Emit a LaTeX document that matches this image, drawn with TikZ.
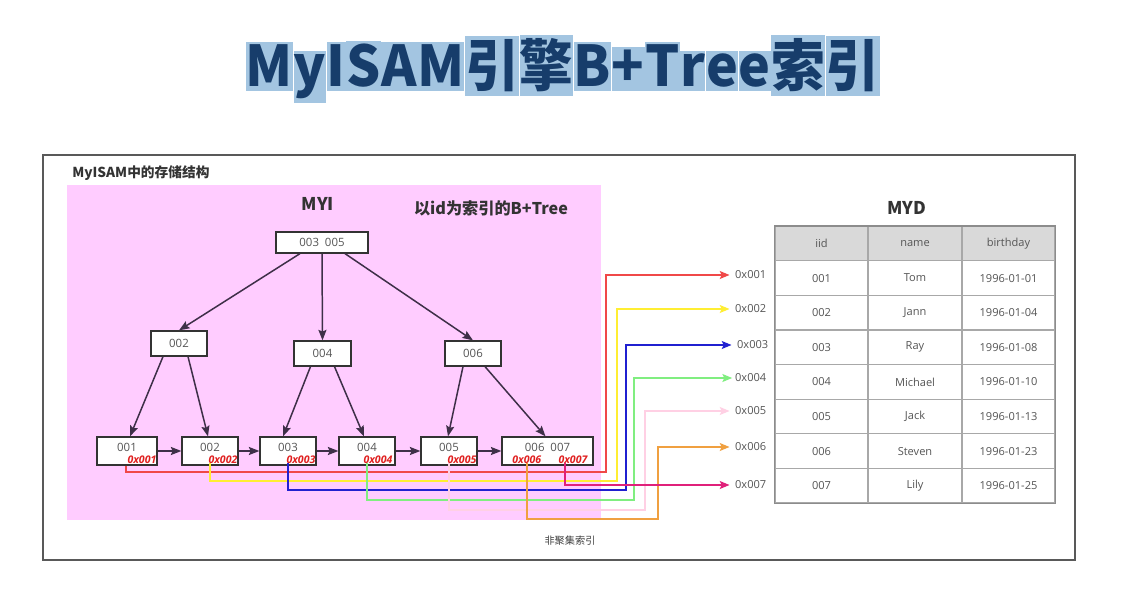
\documentclass[tikz,border=0pt]{standalone}
\usepackage{fontspec}
\setmainfont{Open Sans}
\newfontfamily\cjk{Noto Sans CJK SC}
\usetikzlibrary{arrows.meta,calc}
\definecolor{titleblue}{HTML}{173D6B}
\definecolor{titlehl}{HTML}{A3C5E1}
\definecolor{myipink}{HTML}{FFCCFF}
\definecolor{treeline}{HTML}{3E2F48}
\definecolor{ptrred}{HTML}{F04848}
\definecolor{ptryellow}{HTML}{FFEE33}
\definecolor{ptrblue}{HTML}{2020D0}
\definecolor{ptrgreen}{HTML}{80EE80}
\definecolor{ptrpink}{HTML}{FFD0E4}
\definecolor{ptrorange}{HTML}{F0A040}
\definecolor{ptrmagenta}{HTML}{E0207A}
\definecolor{labred}{HTML}{E02020}
\definecolor{hdrgray}{HTML}{D9D9D9}
\definecolor{cellline}{HTML}{A8A8A8}
\definecolor{txtgray}{HTML}{555555}
\begin{document}
\begin{tikzpicture}[x=0.02cm,y=-0.02cm,
  tchar/.style={anchor=base west,fill=titlehl,text=titleblue,inner xsep=0pt,inner ysep=2pt,
    font=\cjk\bfseries\fontsize{32}{32}\selectfont},
  keybox/.style={draw=black!80,fill=white,line width=0.7pt,inner sep=0pt,
    font=\fontsize{6.5}{7}\selectfont,text=txtgray},
  leafbox/.style={keybox,minimum height=28*0.02cm,text height=4.7pt,text depth=4.7pt},
  tarrow/.style={draw=treeline,line width=0.85pt,-{Stealth[length=6pt,width=4.6pt,inset=1pt]}},
  addrlab/.style={anchor=base east,inner sep=0.5pt,text=labred,font=\bfseries\itshape\fontsize{6}{7}\selectfont},
  ptr/.style={line width=0.8pt,-{Stealth[length=5.5pt,width=4.5pt,inset=1pt]},shorten >=2pt},
  outlab/.style={anchor=west,inner sep=1pt,text=txtgray,font=\fontsize{6.3}{7}\selectfont},
  cell/.style={draw=cellline,line width=0.6pt,minimum width=93*0.02cm,minimum height=34.6*0.02cm,
    inner sep=0pt,text=txtgray,font=\fontsize{6.3}{7}\selectfont},
  heading/.style={text=black!80,font=\cjk\bfseries\fontsize{10}{12}\selectfont,inner sep=0pt}
]
\useasboundingbox[fill=white] (0,0) rectangle (1128,597);

% title
\node[inner sep=0pt,anchor=base west] (t0) at (243,87) {};
\foreach \c [count=\i, evaluate=\i as \j using int(\i-1)] in {M,y,I,S,A,M,引,擎,B,+,T,r,e,e,索,引}
  \node[tchar] (t\i) at (t\j.base east) {\scalebox{0.955}[1]{\c}};

% frame
\draw[draw=black!65,line width=1pt] (43,155) rectangle (1075,560);
\node[anchor=base west,inner sep=0pt,text=black!80,font=\cjk\bfseries\fontsize{7.8}{9}\selectfont] (frametitle) at (72,178) {MyISAM中的存储结构};
\fill[myipink] (67,185) rectangle (601,520);
\node[heading] (myi) at (318,204) {MYI};
\node[heading,font=\cjk\bfseries\fontsize{9.2}{11}\selectfont] (btree) at (491,208) {以id为索引的B+Tree};

% tree nodes
\node[keybox,minimum width=92*0.02cm,minimum height=21*0.02cm] (root) at (322,242.5) {003\ \ 005};
\node[keybox,minimum width=56*0.02cm,minimum height=25*0.02cm] (n2) at (179,343.5) {002};
\node[keybox,minimum width=57*0.02cm,minimum height=25*0.02cm] (n4) at (322.5,353.5) {004};
\node[keybox,minimum width=56*0.02cm,minimum height=25*0.02cm] (n6) at (473,353.5) {006};
\node[leafbox,minimum width=60*0.02cm] (l1) at (127,451) {001};
\node[leafbox,minimum width=56*0.02cm] (l2) at (210,451) {002};
\node[leafbox,minimum width=56*0.02cm] (l3) at (288,451) {003};
\node[leafbox,minimum width=56*0.02cm] (l4) at (367,451) {004};
\node[leafbox,minimum width=56*0.02cm] (l5) at (449,451) {005};
\node[leafbox,minimum width=91*0.02cm] (l6) at (547.5,451) {006\ \ 007};

% tree arrows
\draw[tarrow] ($(root.south)+(-22,0)$) -- (n2.north);
\draw[tarrow] (root.south) -- (n4.north);
\draw[tarrow] ($(root.south)+(23,0)$) -- (n6.north);
\draw[tarrow] ($(n2.south)+(-16,0)$) -- ($(l1.north)+(3,0)$);
\draw[tarrow] ($(n2.south)+(9,0)$) -- ($(l2.north)+(-2,0)$);
\draw[tarrow] ($(n4.south)+(-12,0)$) -- ($(l3.north)+(-5,0)$);
\draw[tarrow] ($(n4.south)+(12,0)$) -- ($(l4.north)+(-3,0)$);
\draw[tarrow] ($(n6.south)+(-10,0)$) -- ($(l5.north)+(-1,0)$);
\draw[tarrow] ($(n6.south)+(12,0)$) -- ($(l6.north)+(-2,0)$);
\draw[tarrow] (l1.east) -- (l2.west);
\draw[tarrow] (l2.east) -- (l3.west);
\draw[tarrow] (l3.east) -- (l4.west);
\draw[tarrow] (l4.east) -- (l5.west);
\draw[tarrow] (l5.east) -- (l6.west);

% output labels
\node[outlab] (a1) at (733,275) {0x001};
\node[outlab] (a2) at (733,309) {0x002};
\node[outlab] (a3) at (735,345) {0x003};
\node[outlab] (a4) at (733,378) {0x004};
\node[outlab] (a5) at (733,411) {0x005};
\node[outlab] (a6) at (733,447) {0x006};
\node[outlab] (a7) at (733,485) {0x007};

% pointer lines
\draw[ptr,ptrred] ($(l1.south)+(-1,0)$) |- (606,472) |- (a1.west);
\draw[ptr,ptryellow] ($(l2.south)+(0,-3)$) |- (617,481) |- (a2.west);
\draw[ptr,ptrblue] ($(l3.south)+(0,-3)$) |- (626,490) |- (a3.west);
\draw[ptr,ptrgreen,shorten >=0.5pt] ($(l4.south)+(0,-3)$) |- (634,500) |- (a4.west);
\draw[ptr,ptrpink] ($(l5.south)+(0,-3)$) |- (645,510) |- (a5.west);
\draw[ptr,ptrorange] ($(l6.south)+(-20.5,-3)$) |- (658,519) |- (a6.west);
\draw[ptr,ptrmagenta] ($(l6.south)+(17.5,-3)$) |- (a7.west);

% address labels
\node[addrlab] (r1) at ($(l1.south east)+(0,-2)$) {0x001};
\node[addrlab] (r2) at ($(l2.south east)+(0,-2)$) {0x002};
\node[addrlab] (r3) at ($(l3.south east)+(0,-2)$) {0x003};
\node[addrlab] (r4) at ($(l4.south east)+(-2,-2)$) {0x004};
\node[addrlab] (r5) at ($(l5.south east)+(0,-2)$) {0x005};
\node[addrlab] (r6) at ($(l6.south west)+(41,-2)$) {0x006};
\node[addrlab] (r7) at ($(l6.south east)+(-5,-2)$) {0x007};

% MYD table
\node[heading] (myd) at (907,208) {MYD};
\node[cell,fill=hdrgray] (h1) at (821.5,243.5) {iid};
\node[cell,fill=hdrgray] (h2) at (915,243.5) {name};
\node[cell,fill=hdrgray] (h3) at (1008.5,243.5) {birthday};
\foreach \a/\b/\c [count=\r] in {001/Tom/1996-01-01,002/Jann/1996-01-04,003/Ray/1996-01-08,004/Michael/1996-01-10,005/Jack/1996-01-13,006/Steven/1996-01-23,007/Lily/1996-01-25}{
  \node[cell] (c\r a) at (821.5,243.5+34.6*\r) {\a};
  \node[cell] (c\r b) at (915,243.5+34.6*\r) {\b};
  \node[cell] (c\r c) at (1008.5,243.5+34.6*\r) {\c};
}
\draw[draw=black!45,line width=1pt] (h1.north west) rectangle (c7c.south east);

\node[inner sep=0pt,text=black!75,font=\cjk\fontsize{5.8}{7}\selectfont] (caption) at (570,541) {非聚集索引};
\end{tikzpicture}
\end{document}
